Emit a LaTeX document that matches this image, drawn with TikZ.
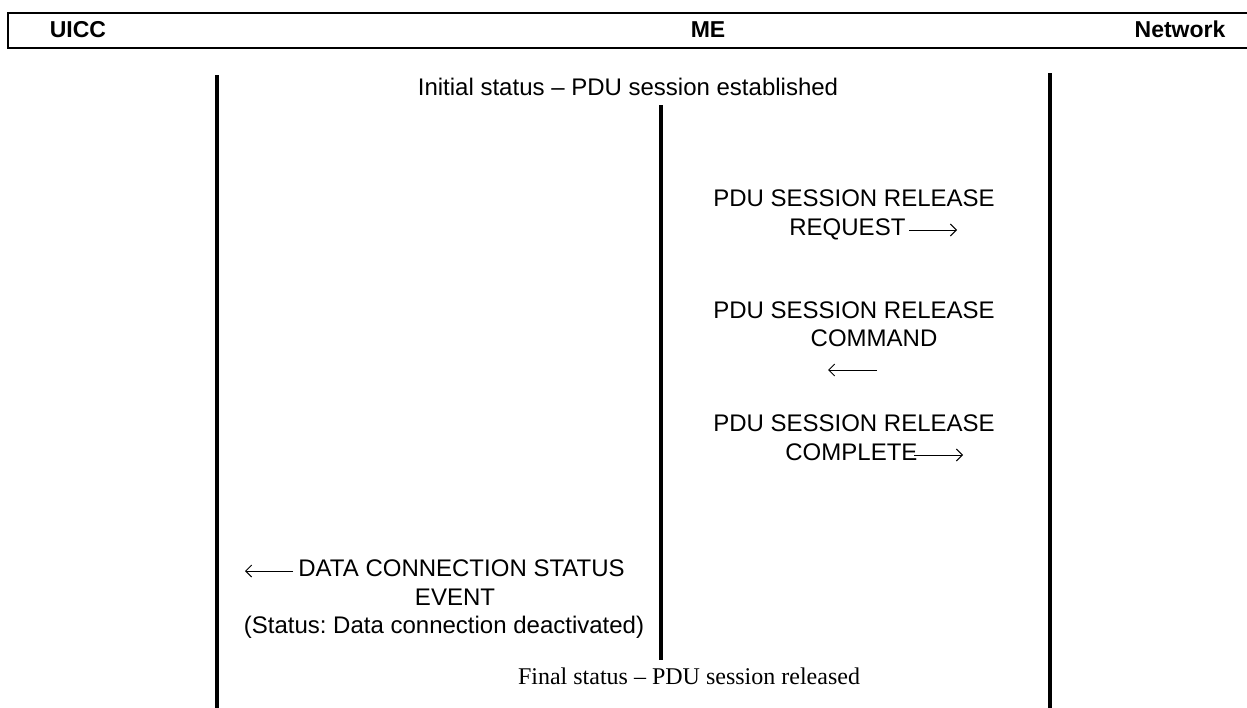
\documentclass[tikz,border=0pt]{standalone}
\usepackage{fontspec}
\usetikzlibrary{arrows.meta}
\setmainfont{Liberation Sans}
\newfontfamily\timesfont{Liberation Serif}
\frenchspacing
\begin{document}
\begin{tikzpicture}[x=0.5pt,y=-0.5pt,
  lbl/.style={font=\fontsize{12pt}{14.5pt}\selectfont, inner sep=0pt, text height=8.6pt, text depth=0pt},
  hdr/.style={font=\fontsize{11.5pt}{13pt}\selectfont\bfseries, inner sep=0pt, text height=8.2pt, text depth=0pt},
  fin/.style={font=\timesfont\fontsize{12pt}{14pt}\selectfont, inner sep=0pt, text height=7.9pt, text depth=0pt},
  life/.style={line width=2pt},
  msg/.style={line width=0.5pt, -{Straight Barb[length=3pt,width=6pt,line width=0.5pt]}},
  frame/.style={line width=1pt, line join=miter}]
\useasboundingbox (0,0) rectangle (1247,707);
% header frame
\coordinate (hTR) at (1252,12.5);
\coordinate (hBL) at (8,48);
\coordinate (hBR) at (1252,48);
\draw[frame] (hTR) -| (hBL) -- (hBR);
\node[hdr] (uicc) at (78,29) {UICC};
\node[hdr] (me) at (708,29) {ME};
\node[hdr] (net) at (1180,29) {Network};
% lifelines
\coordinate (uT) at (217,75);
\coordinate (uB) at (217,709);
\coordinate (nT) at (1050,73);
\coordinate (nB) at (1050,709);
\coordinate (mT) at (661,105);
\coordinate (mB) at (661,660);
\draw[life] (uT) -- (uB);
\draw[life] (nT) -- (nB);
\draw[life] (mT) -- (mB);
% texts
\node[lbl] (init) at (628,87) {Initial status – PDU session established};
\node[lbl] (req1) at (854,198) {PDU SESSION RELEASE};
\node[lbl,anchor=west] (req2) at (789,227) {REQUEST};
\node[lbl] (cmd1) at (854,310) {PDU SESSION RELEASE};
\node[lbl] (cmd2) at (874,338) {COMMAND};
\node[lbl] (cpl1) at (854,423) {PDU SESSION RELEASE};
\node[lbl,anchor=west] (cpl2) at (785,452) {COMPLETE};
\node[lbl,anchor=west] (dat1) at (298,568) {DATA CONNECTION STATUS};
\node[lbl] (dat2) at (455,597) {EVENT};
\node[lbl] (dat3) at (444,625) {(Status: Data connection deactivated)};
\node[fin] (final) at (689,677) {Final status – PDU session released};
% message arrows
\coordinate (reqS) at (909,230);
\coordinate (reqE) at (957,230);
\draw[msg] (reqS) -- (reqE);
\coordinate (cmdS) at (877,370);
\coordinate (cmdE) at (828,370);
\draw[msg] (cmdS) -- (cmdE);
\coordinate (cplS) at (914,455);
\coordinate (cplE) at (963,455);
\draw[msg] (cplS) -- (cplE);
\coordinate (datS) at (293,571);
\coordinate (datE) at (245,571);
\draw[msg] (datS) -- (datE);
\end{tikzpicture}
\end{document}
